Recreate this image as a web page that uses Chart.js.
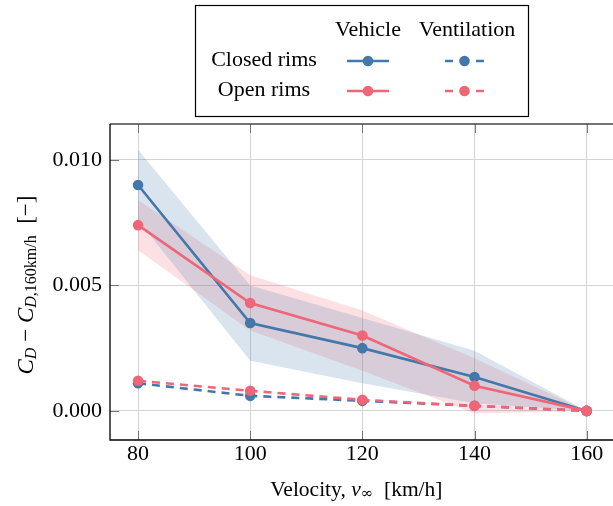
<!DOCTYPE html>
<html>
<head>
<meta charset="utf-8">
<script src="https://cdn.jsdelivr.net/npm/chart.js@4.4.1/dist/chart.umd.min.js"></script>
<style>
  html, body { margin: 0; padding: 0; background: #fff; overflow: hidden; }
  #wrap { width: 620px; height: 506px; }
</style>
</head>
<body>
<div id="wrap"><canvas id="c" width="620" height="506"></canvas></div>
<script>
// ── DATA ─────────────────────────────────────────────────────────────────────
const velocities = [80, 100, 120, 140, 160];
const xTicks = [80, 100, 120, 140, 160];
const yTicks = [0, 0.005, 0.010];

const closedVehicle   = [0.0090, 0.0035, 0.0025, 0.00135, 0];
const closedVehHi     = [0.0104, 0.0050, 0.0037, 0.0024, 0];
const closedVehLo     = [0.0076, 0.0020, 0.0011, 0.0003, 0];
const openVehicle     = [0.0074, 0.0043, 0.0030, 0.0010, 0];
const openVehHi       = [0.0084, 0.0054, 0.0040, 0.0021, 0];
const openVehLo       = [0.0064, 0.0032, 0.0016, -0.0001, 0];
const closedVent      = [0.0011, 0.0006, 0.0004, 0.0002, 0];
const openVent        = [0.0012, 0.0008, 0.00044, 0.0002, 0];

// ── STYLE ────────────────────────────────────────────────────────────────────
const BLUE = '#4477AA';
const RED  = '#EE6677';
const SERIF = '"Liberation Serif", "DejaVu Serif", serif';
const DASH = [8, 6];

const pts = arr => arr.map((y, i) => ({ x: velocities[i], y }));

// lower `order` is painted on top: open rims over closed rims, bands at the bottom
function band(data, color, fillTarget) {
  return { data: pts(data), borderWidth: 0, pointRadius: 0, borderColor: 'transparent',
           backgroundColor: color, fill: fillTarget, tension: 0, order: 9 };
}
function line(data, color, dashed, order) {
  return { data: pts(data), borderColor: color, backgroundColor: color, borderWidth: 2.6,
           borderDash: dashed ? DASH : [], pointRadius: 5.3, pointHoverRadius: 5.3,
           pointBorderWidth: 0, fill: false, tension: 0, order };
}

// ── DECORATION: frame, inner tick marks, axis titles, legend ─────────────────
const decor = {
  id: 'decor',
  afterDraw(chart) {
    const ctx = chart.ctx, a = chart.chartArea;
    const xs = chart.scales.x, ys = chart.scales.y;
    ctx.save();

    // inner tick marks
    ctx.strokeStyle = '#777'; ctx.lineWidth = 1;
    yTicks.forEach(v => {
      const y = Math.round(ys.getPixelForValue(v)) + 0.5;
      ctx.beginPath(); ctx.moveTo(a.left, y); ctx.lineTo(a.left + 9, y); ctx.stroke();
    });
    xTicks.forEach(v => {
      const x = Math.round(xs.getPixelForValue(v)) + 0.5;
      ctx.beginPath(); ctx.moveTo(x, a.bottom); ctx.lineTo(x, a.bottom - 9); ctx.stroke();
      ctx.beginPath(); ctx.moveTo(x, a.top); ctx.lineTo(x, a.top + 9); ctx.stroke();
    });

    // frame
    ctx.lineWidth = 1.3;
    ctx.strokeStyle = '#444';
    ctx.beginPath(); ctx.moveTo(a.left, a.top); ctx.lineTo(a.right, a.top); ctx.stroke();
    ctx.strokeStyle = '#000';
    ctx.beginPath(); ctx.moveTo(a.left, a.top); ctx.lineTo(a.left, a.bottom); ctx.lineTo(a.right, a.bottom); ctx.stroke();

    // x title: Velocity, v∞ [km/h]
    ctx.fillStyle = '#000';
    const xParts = [
      { t: 'Velocity, ', f: `21.5px ${SERIF}`, dy: 0 },
      { t: 'v', f: `italic 21.5px ${SERIF}`, dy: 0 },
      { t: '\u221E', f: `15px "DejaVu Serif", serif`, dy: 4 },
      { t: '  [km/h]', f: `21.5px ${SERIF}`, dy: 0 }
    ];
    drawRuns(ctx, xParts, (a.left + a.right) / 2 - 6, 490);

    // y title: C_D − C_{D,160km/h} [−], rotated
    ctx.save();
    ctx.translate(27, 285);
    ctx.rotate(-Math.PI / 2);
    const yParts = [
      { t: 'C', f: `italic 23px ${SERIF}`, dy: 0 },
      { t: 'D', f: `italic 16px ${SERIF}`, dy: 5 },
      { t: ' \u2212 ', f: `23px ${SERIF}`, dy: 0 },
      { t: 'C', f: `italic 23px ${SERIF}`, dy: 0 },
      { t: 'D', f: `italic 16px ${SERIF}`, dy: 5 },
      { t: ',160km/h', f: `16px ${SERIF}`, dy: 5 },
      { t: '  [\u2212]', f: `23px ${SERIF}`, dy: 0 }
    ];
    drawRuns(ctx, yParts, 0, 0);
    ctx.restore();

    // legend box
    ctx.fillStyle = '#fff';
    ctx.fillRect(195.5, 5.5, 333, 111);
    ctx.strokeStyle = '#000'; ctx.lineWidth = 1.2;
    ctx.strokeRect(195.5, 5.5, 333, 111);
    ctx.fillStyle = '#000';
    ctx.font = `22px ${SERIF}`;
    ctx.textAlign = 'center'; ctx.textBaseline = 'middle';
    ctx.fillText('Vehicle', 368, 30);
    ctx.fillText('Ventilation', 467, 30);
    ctx.fillText('Closed rims', 264, 60);
    ctx.fillText('Open rims', 264, 90);
    sample(ctx, 347, 389, 61, BLUE, false);
    sample(ctx, 445, 484, 61, BLUE, true);
    sample(ctx, 347, 389, 91, RED, false);
    sample(ctx, 445, 484, 91, RED, true);
    ctx.restore();
  }
};

function drawRuns(ctx, parts, cx, cy) {
  ctx.textAlign = 'left'; ctx.textBaseline = 'middle';
  let w = 0;
  parts.forEach(p => { ctx.font = p.f; w += ctx.measureText(p.t).width; });
  let x = cx - w / 2;
  parts.forEach(p => {
    ctx.font = p.f;
    ctx.fillText(p.t, x, cy + p.dy);
    x += ctx.measureText(p.t).width;
  });
}

// legend sample: solid line, or dash – gap – marker – gap – dash
function sample(ctx, x0, x1, y, color, dashed) {
  const mid = (x0 + x1) / 2;
  ctx.strokeStyle = color; ctx.fillStyle = color; ctx.lineWidth = 2.6;
  ctx.beginPath();
  if (dashed) {
    ctx.moveTo(x0, y); ctx.lineTo(x0 + 8, y);
    ctx.moveTo(x1 - 8, y); ctx.lineTo(x1, y);
  } else {
    ctx.moveTo(x0, y); ctx.lineTo(x1, y);
  }
  ctx.stroke();
  ctx.beginPath(); ctx.arc(mid, y, 5.3, 0, Math.PI * 2); ctx.fill();
}

// ── CHART ────────────────────────────────────────────────────────────────────
new Chart(document.getElementById('c'), {
  type: 'line',
  data: {
    datasets: [
      band(closedVehHi, 'rgba(68,119,170,0.2)', '+1'),
      band(closedVehLo, 'transparent', false),
      band(openVehHi, 'rgba(238,102,119,0.2)', '+1'),
      band(openVehLo, 'transparent', false),
      line(closedVehicle, BLUE, false, 4),
      line(closedVent, BLUE, true, 3),
      line(openVehicle, RED, false, 2),
      line(openVent, RED, true, 1)
    ]
  },
  options: {
    responsive: false,
    animation: false,
    layout: { padding: { top: 124, bottom: 0, left: 0, right: 3 } },
    plugins: { legend: { display: false }, tooltip: { enabled: false } },
    scales: {
      x: {
        type: 'linear', min: 75, max: 165,
        afterBuildTicks: s => { s.ticks = xTicks.map(v => ({ value: v })); },
        afterFit: s => { s.height = 66; },
        grid: { color: '#d4d4d4', lineWidth: 1, drawTicks: false },
        border: { display: false },
        ticks: { color: '#000', padding: 1, font: { family: SERIF, size: 22 }, maxRotation: 0, autoSkip: false }
      },
      y: {
        type: 'linear', min: -0.00116, max: 0.01143,
        afterBuildTicks: s => { s.ticks = yTicks.map(v => ({ value: v })); },
        afterFit: s => { s.width = 110; },
        grid: { color: '#d4d4d4', lineWidth: 1, drawTicks: false },
        border: { display: false },
        ticks: { color: '#000', padding: 8, font: { family: SERIF, size: 22 },
                 callback: v => v.toFixed(3) }
      }
    }
  },
  plugins: [decor]
});
</script>
</body>
</html>
